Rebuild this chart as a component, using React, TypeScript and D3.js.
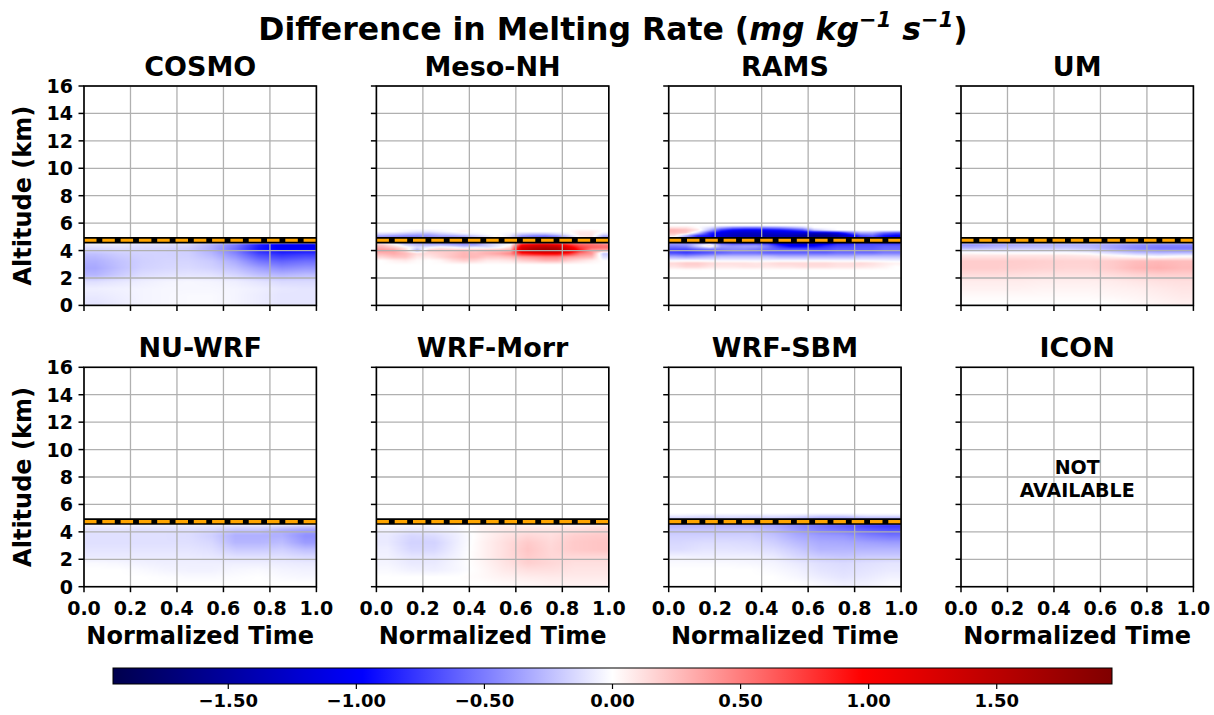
import React, { useMemo } from "react";
import * as d3 from "d3";

const W = 1214;
const H = 715;
const FONT = "DejaVu Sans";

const models = ["COSMO", "Meso-NH", "RAMS", "UM", "NU-WRF", "WRF-Morr", "WRF-SBM", "ICON"];
const xTicks = [0, 0.2, 0.4, 0.6, 0.8, 1.0];
const yTicks = [0, 2, 4, 6, 8, 10, 12, 14, 16];
const cbarTicks = [-1.5, -1.0, -0.5, 0, 0.5, 1.0, 1.5];
const vLimit = 1.95;
const meltingLevel = 4.75;

// time bin centres
const t10 = [0.05, 0.15, 0.25, 0.35, 0.45, 0.55, 0.65, 0.75, 0.85, 0.95];
const t20 = [0.025, 0.075, 0.125, 0.175, 0.225, 0.275, 0.325, 0.375, 0.425, 0.475,
  0.525, 0.575, 0.625, 0.675, 0.725, 0.775, 0.825, 0.875, 0.925, 0.975];

// ---- COSMO ----
const cosmoAlt = [0.25, 0.75, 1.25, 1.75, 2.25, 2.75, 3.25, 3.75, 4.15, 4.45, 4.6];
const cosmoVals = [
  [-0.10, -0.07, -0.04, -0.03, -0.02, -0.02, -0.04, -0.07, -0.10, -0.10],
  [-0.08, -0.06, -0.04, -0.03, -0.02, -0.02, -0.04, -0.07, -0.10, -0.10],
  [-0.06, -0.05, -0.04, -0.03, -0.03, -0.03, -0.04, -0.06, -0.09, -0.10],
  [-0.12, -0.09, -0.06, -0.04, -0.03, -0.04, -0.06, -0.10, -0.14, -0.14],
  [-0.28, -0.2, -0.13, -0.11, -0.10, -0.11, -0.16, -0.24, -0.28, -0.25],
  [-0.33, -0.24, -0.17, -0.15, -0.14, -0.17, -0.24, -0.36, -0.44, -0.40],
  [-0.30, -0.23, -0.18, -0.16, -0.16, -0.20, -0.32, -0.52, -0.60, -0.55],
  [-0.24, -0.19, -0.17, -0.17, -0.18, -0.27, -0.45, -0.70, -0.80, -0.75],
  [-0.15, -0.13, -0.15, -0.16, -0.19, -0.32, -0.55, -0.88, -1.00, -1.00],
  [-0.08, -0.08, -0.12, -0.12, -0.15, -0.30, -0.50, -0.85, -1.02, -1.05],
  [0, 0, 0, 0, 0, 0, 0, 0, 0, 0],
];

// ---- Meso-NH ----
const mesoAlt = [3.0, 3.3, 3.55, 3.8, 4.05, 4.25, 4.45, 4.75, 5.05, 5.2, 5.4, 5.6];
const mesoVals = [
  [0, 0, 0, 0, 0, 0, 0, 0, 0, 0, 0, 0, 0, 0, 0, 0, 0, 0, 0, 0],
  [0, 0.05, 0.08, 0.02, 0, 0.03, 0.12, 0.18, 0.15, 0.08, 0.08, 0.1, 0.18, 0.22, 0.28, 0.28, 0.18, 0.12, 0.06, 0],
  [0.15, 0.22, 0.22, 0.08, 0.08, 0.15, 0.22, 0.28, 0.26, 0.2, 0.2, 0.25, 0.35, 0.4, 0.45, 0.45, 0.35, 0.3, 0.25, -0.12],
  [0.28, 0.32, 0.26, 0.14, 0.14, 0.18, 0.22, 0.28, 0.26, 0.3, 0.35, 0.45, 0.85, 0.95, 1.0, 1.0, 0.85, 0.5, 0.4, -0.22],
  [0.4, 0.35, 0.15, -0.3, 0.18, 0.2, 0.2, 0.25, 0.2, 0.25, 0.25, 0.3, 1.35, 1.65, 1.75, 1.7, 1.35, 0.85, 0.4, 0.35],
  [0.3, 0.2, 0.05, -0.12, -0.05, 0.05, 0, -0.12, -0.05, -0.12, -0.05, 0.12, 1.25, 1.45, 1.55, 1.5, 1.15, 0.75, 0.6, 0.55],
  [0.2, 0.05, -0.18, -0.25, -0.3, -0.3, -0.35, -0.4, -0.4, -0.22, -0.1, 0, 0.9, 1.1, 1.2, 1.1, 0.8, 0.6, 0.55, 0.5],
  [-0.35, -0.35, -0.4, -0.4, -0.35, -0.35, -0.35, -0.35, -0.22, -0.1, -0.1, -0.22, -0.35, -0.45, -0.45, -0.35, -0.1, 0.05, 0.05, -0.25],
  [-0.4, -0.45, -0.5, -0.5, -0.45, -0.4, -0.4, -0.35, -0.22, -0.1, 0.05, -0.12, -0.45, -0.55, -0.6, -0.5, -0.22, 0.05, 0.1, -0.35],
  [-0.18, -0.22, -0.28, -0.32, -0.32, -0.22, -0.17, -0.1, -0.05, 0, 0, -0.05, -0.22, -0.28, -0.28, -0.17, -0.05, 0.1, 0.1, -0.12],
  [0, 0, -0.05, -0.1, -0.1, -0.05, 0, 0.05, 0, 0, 0, 0, 0, 0, 0, 0, 0, 0.08, 0.08, 0],
  [0, 0, 0, 0, 0, 0, 0, 0, 0, 0, 0, 0, 0, 0, 0, 0, 0, 0, 0, 0],
];

// ---- RAMS ----
const ramsAlt = [2.6, 2.85, 3.1, 3.35, 3.6, 3.85, 4.1, 4.35, 4.5, 4.75, 5.1, 5.3, 5.5, 5.7, 5.85];
const ramsVals = [
  [0, 0, 0, 0, 0, 0, 0, 0, 0, 0, 0, 0, 0, 0, 0, 0, 0, 0, 0, 0],
  [0.1, 0.15, 0.15, 0.1, 0.08, 0.08, 0.1, 0.1, 0.08, 0.1, 0.1, 0.12, 0.12, 0.12, 0.1, 0.1, 0.1, 0.08, 0.05, 0],
  [0.15, 0.2, 0.2, 0.15, 0.12, 0.12, 0.12, 0.1, 0.12, 0.15, 0.15, 0.15, 0.15, 0.15, 0.12, 0.12, 0.15, 0.12, 0.08, 0.05],
  [-0.08, -0.08, -0.08, -0.08, -0.08, -0.08, -0.08, -0.08, -0.08, -0.08, -0.08, -0.08, -0.08, -0.08, -0.08, -0.08, -0.08, -0.08, -0.08, -0.08],
  [-0.35, -0.4, -0.35, -0.3, -0.25, -0.25, -0.25, -0.25, -0.25, -0.3, -0.3, -0.3, -0.3, -0.3, -0.3, -0.3, -0.25, -0.25, -0.25, -0.25],
  [-0.7, -0.75, -0.7, -0.65, -0.6, -0.55, -0.55, -0.55, -0.6, -0.6, -0.6, -0.6, -0.6, -0.6, -0.55, -0.55, -0.55, -0.55, -0.5, -0.5],
  [-0.7, -0.7, -0.6, -0.55, -0.5, -0.45, -0.45, -0.5, -0.55, -0.6, -0.6, -0.6, -0.65, -0.65, -0.6, -0.6, -0.6, -0.6, -0.55, -0.55],
  [-0.5, -0.45, -0.15, 0.15, -0.35, -0.4, -0.35, -0.35, -0.5, -0.8, -1.0, -1.0, -0.95, -0.8, -0.7, -0.7, -0.65, -0.65, -0.6, -0.6],
  [-0.4, -0.4, -0.25, -0.1, -0.5, -0.6, -0.6, -0.6, -0.7, -1.0, -1.1, -1.2, -1.1, -1.0, -0.8, -0.8, -0.7, -0.7, -0.7, -0.7],
  [-0.3, -0.6, -0.9, -1.0, -1.2, -1.3, -1.3, -1.3, -1.3, -1.3, -1.4, -1.4, -1.5, -1.5, -1.3, -1.1, -0.9, -0.9, -1.0, -1.1],
  [0.1, -0.3, -0.8, -0.9, -1.2, -1.35, -1.4, -1.4, -1.4, -1.4, -1.4, -1.5, -1.6, -1.6, -1.5, -1.2, -0.7, -0.6, -0.9, -1.0],
  [0.25, 0.2, -0.2, -0.8, -1.1, -1.25, -1.3, -1.3, -1.25, -1.2, -1.2, -1.2, -1.3, -1.3, -1.1, -0.7, -0.35, -0.35, -0.6, -0.7],
  [0.3, 0.25, 0.1, -0.3, -0.8, -1.0, -1.05, -1.05, -1.0, -0.95, -0.85, -0.7, -0.25, -0.1, 0, 0, 0, 0, 0, 0],
  [0.1, 0.1, 0, -0.1, -0.3, -0.45, -0.5, -0.5, -0.45, -0.4, -0.3, -0.2, 0, 0, 0, 0, 0, 0, 0, 0],
  [0, 0, 0, 0, 0, 0, 0, 0, 0, 0, 0, 0, 0, 0, 0, 0, 0, 0, 0, 0],
];

// ---- UM ----
const umAlt = [0.25, 0.75, 1.25, 1.75, 2.25, 2.75, 3.25, 3.65, 3.95, 4.2, 4.45, 4.6];
const umVals = [
  [0, 0, 0, 0, 0, 0, 0, 0.02, 0.04, 0.06],
  [0.02, 0.02, 0.02, 0.02, 0.02, 0.02, 0.03, 0.04, 0.06, 0.08],
  [0.05, 0.05, 0.05, 0.04, 0.04, 0.04, 0.05, 0.06, 0.08, 0.1],
  [0.07, 0.07, 0.07, 0.06, 0.06, 0.06, 0.07, 0.09, 0.11, 0.12],
  [0.13, 0.13, 0.12, 0.11, 0.11, 0.11, 0.13, 0.16, 0.18, 0.18],
  [0.19, 0.19, 0.18, 0.17, 0.16, 0.16, 0.2, 0.27, 0.3, 0.26],
  [0.19, 0.19, 0.19, 0.18, 0.17, 0.17, 0.2, 0.25, 0.27, 0.25],
  [0.1, 0.1, 0.1, 0.1, 0.1, 0.08, 0.02, -0.04, -0.08, -0.04],
  [-0.04, -0.06, -0.06, -0.06, -0.06, -0.1, -0.22, -0.32, -0.36, -0.36],
  [-0.28, -0.25, -0.22, -0.22, -0.22, -0.26, -0.36, -0.46, -0.52, -0.52],
  [-0.42, -0.36, -0.33, -0.3, -0.3, -0.3, -0.35, -0.42, -0.46, -0.46],
  [0, 0, 0, 0, 0, 0, 0, 0, 0, 0],
];

// ---- NU-WRF ----
const nuwrfAlt = [0.25, 0.75, 1.25, 1.75, 2.25, 2.75, 3.25, 3.75, 4.15, 4.45, 4.6];
const nuwrfVals = [
  [0, 0, 0, 0, 0, 0, 0, 0, 0, 0],
  [0, 0, 0, -0.01, -0.02, -0.02, -0.01, 0, -0.02, -0.03],
  [0, 0, -0.02, -0.04, -0.05, -0.05, -0.03, -0.02, -0.04, -0.05],
  [-0.02, -0.03, -0.05, -0.06, -0.06, -0.06, -0.06, -0.06, -0.07, -0.08],
  [-0.08, -0.08, -0.08, -0.08, -0.08, -0.09, -0.12, -0.12, -0.12, -0.15],
  [-0.1, -0.1, -0.1, -0.1, -0.1, -0.12, -0.2, -0.2, -0.18, -0.25],
  [-0.12, -0.12, -0.12, -0.12, -0.12, -0.15, -0.28, -0.28, -0.25, -0.38],
  [-0.12, -0.12, -0.12, -0.12, -0.13, -0.18, -0.3, -0.3, -0.3, -0.42],
  [-0.1, -0.1, -0.12, -0.12, -0.12, -0.15, -0.22, -0.22, -0.3, -0.35],
  [-0.06, -0.06, -0.08, -0.08, -0.08, -0.1, -0.12, -0.12, -0.15, -0.2],
  [0, 0, 0, 0, 0, 0, 0, 0, 0, 0],
];

// ---- WRF-Morr ----
const morrAlt = [0.25, 0.75, 1.25, 1.75, 2.25, 2.75, 3.25, 3.75, 4.15, 4.45, 4.6];
const morrVals = [
  [0, 0, 0, 0, 0, 0.02, 0.03, 0.05, 0.05, 0.05],
  [0, 0, 0, 0, 0.02, 0.05, 0.07, 0.08, 0.08, 0.08],
  [-0.02, -0.05, -0.06, -0.03, 0.02, 0.08, 0.12, 0.12, 0.1, 0.1],
  [-0.04, -0.08, -0.08, -0.03, 0.03, 0.1, 0.18, 0.15, 0.12, 0.12],
  [-0.05, -0.1, -0.1, -0.04, 0.04, 0.12, 0.2, 0.15, 0.15, 0.15],
  [-0.06, -0.15, -0.15, -0.05, 0.04, 0.12, 0.22, 0.15, 0.2, 0.22],
  [-0.08, -0.17, -0.17, -0.06, 0.04, 0.12, 0.2, 0.14, 0.2, 0.22],
  [-0.08, -0.15, -0.13, -0.06, 0.03, 0.1, 0.15, 0.12, 0.18, 0.2],
  [-0.05, -0.08, -0.07, -0.04, 0.04, 0.08, 0.1, 0.1, 0.12, 0.15],
  [-0.02, -0.04, -0.04, -0.02, 0.04, 0.06, 0.06, 0.06, 0.08, 0.1],
  [0, 0, 0, 0, 0, 0, 0, 0, 0, 0],
];

// ---- WRF-SBM ----
const sbmAlt = [0.25, 0.75, 1.25, 1.75, 2.25, 2.75, 3.25, 3.75, 4.15, 4.45, 4.75, 5.05, 5.25, 5.4];
const sbmVals = [
  [0, 0, 0, 0, 0, 0, -0.03, -0.06, -0.05, -0.02],
  [0, 0, 0, 0, 0, -0.03, -0.07, -0.1, -0.08, -0.05],
  [0, 0, 0, 0, -0.02, -0.05, -0.1, -0.12, -0.1, -0.08],
  [-0.02, -0.02, -0.02, -0.03, -0.04, -0.08, -0.12, -0.14, -0.12, -0.1],
  [-0.05, -0.06, -0.06, -0.06, -0.08, -0.15, -0.2, -0.22, -0.2, -0.2],
  [-0.13, -0.1, -0.1, -0.11, -0.13, -0.2, -0.28, -0.28, -0.28, -0.28],
  [-0.15, -0.13, -0.13, -0.14, -0.18, -0.26, -0.32, -0.33, -0.36, -0.38],
  [-0.18, -0.18, -0.18, -0.18, -0.23, -0.32, -0.38, -0.4, -0.48, -0.53],
  [-0.22, -0.22, -0.22, -0.22, -0.28, -0.38, -0.48, -0.53, -0.6, -0.65],
  [-0.28, -0.28, -0.28, -0.3, -0.33, -0.43, -0.53, -0.6, -0.7, -0.75],
  [-0.3, -0.3, -0.3, -0.3, -0.3, -0.35, -0.4, -0.4, -0.45, -0.5],
  [-0.15, -0.18, -0.15, -0.18, -0.18, -0.22, -0.3, -0.3, -0.24, -0.24],
  [-0.04, -0.06, -0.06, -0.06, -0.06, -0.07, -0.1, -0.1, -0.06, -0.06],
  [0, 0, 0, 0, 0, 0, 0, 0, 0, 0],
];

type Field = { times: number[]; alts: number[]; vals: number[][] } | null;
const fields: Field[] = [
  { times: t10, alts: cosmoAlt, vals: cosmoVals },
  { times: t20, alts: mesoAlt, vals: mesoVals },
  { times: t20, alts: ramsAlt, vals: ramsVals },
  { times: t10, alts: umAlt, vals: umVals },
  { times: t10, alts: nuwrfAlt, vals: nuwrfVals },
  { times: t10, alts: morrAlt, vals: morrVals },
  { times: t10, alts: sbmAlt, vals: sbmVals },
  null,
];

// seismic colormap
const cStops = [-vLimit, -vLimit / 2, 0, vLimit / 2, vLimit];
const rS = d3.scaleLinear().domain(cStops).range([0, 0, 255, 255, 128]).clamp(true);
const gS = d3.scaleLinear().domain(cStops).range([0, 0, 255, 0, 0]).clamp(true);
const bS = d3.scaleLinear().domain(cStops).range([77, 255, 255, 0, 0]).clamp(true);
const seismic = (v: number) => `rgb(${Math.round(rS(v))},${Math.round(gS(v))},${Math.round(bS(v))})`;

// layout
const colLeft = [84, 376.4, 668.7, 961];
const rowTop = [86, 367.3];
const PW = 232.4;
const PH = 219.4;

function bracket(arr: number[], v: number) {
  const n = arr.length;
  if (v <= arr[0]) return [0, 0, 0];
  if (v >= arr[n - 1]) return [n - 1, n - 1, 0];
  let i = d3.bisectRight(arr, v) - 1;
  if (i > n - 2) i = n - 2;
  const f = (v - arr[i]) / (arr[i + 1] - arr[i]);
  return [i, i + 1, f];
}

function makeImage(field: NonNullable<Field>, x: d3.ScaleLinear<number, number>, y: d3.ScaleLinear<number, number>) {
  const w = Math.round(PW);
  const h = Math.round(PH);
  const canvas = document.createElement("canvas");
  canvas.width = w;
  canvas.height = h;
  const ctx = canvas.getContext("2d");
  if (!ctx) return "";
  const img = ctx.createImageData(w, h);
  const { times, alts, vals } = field;
  const top = alts[alts.length - 1];
  for (let py = 0; py < h; py++) {
    const alt = y.invert(py + 0.5);
    if (alt > top) continue;
    const [a0, a1, fa] = bracket(alts, alt);
    for (let px = 0; px < w; px++) {
      const t = x.invert(px + 0.5);
      const [c0, c1, ft] = bracket(times, t);
      const v =
        vals[a0][c0] * (1 - fa) * (1 - ft) +
        vals[a0][c1] * (1 - fa) * ft +
        vals[a1][c0] * fa * (1 - ft) +
        vals[a1][c1] * fa * ft;
      const k = (py * w + px) * 4;
      img.data[k] = Math.round(rS(v));
      img.data[k + 1] = Math.round(gS(v));
      img.data[k + 2] = Math.round(bS(v));
      img.data[k + 3] = 255;
    }
  }
  ctx.putImageData(img, 0, 0);
  return canvas.toDataURL();
}

function Panel({ idx }: { idx: number }) {
  const col = idx % 4;
  const row = Math.floor(idx / 4);
  const left = colLeft[col];
  const top = rowTop[row];
  const x = d3.scaleLinear().domain([0, 1]).range([0, PW]);
  const y = d3.scaleLinear().domain([0, 16]).range([PH, 0]);
  const field = fields[idx];
  const url = useMemo(() => (field ? makeImage(field, x, y) : ""), [idx]);
  const clipId = `clip${idx}`;
  return (
    <g transform={`translate(${left},${top})`}>
      <defs>
        <clipPath id={clipId}>
          <rect x={0} y={0} width={PW} height={PH} />
        </clipPath>
      </defs>
      {field && (
        <image href={url} x={0} y={0} width={PW} height={PH} preserveAspectRatio="none" />
      )}
      {/* grid */}
      <g stroke="#b0b0b0" strokeWidth={1.3}>
        {xTicks.map((t) => (
          <line key={"gx" + t} x1={x(t)} x2={x(t)} y1={0} y2={PH} />
        ))}
        {yTicks.map((t) => (
          <line key={"gy" + t} x1={0} x2={PW} y1={y(t)} y2={y(t)} />
        ))}
      </g>
      {field && (
        <g clipPath={`url(#${clipId})`}>
          <line x1={0} x2={PW} y1={y(meltingLevel)} y2={y(meltingLevel)} stroke="#000" strokeWidth={6.5} />
          <line x1={0} x2={PW} y1={y(meltingLevel)} y2={y(meltingLevel)} stroke="#FFA500" strokeWidth={3.2} strokeDasharray="12.5,5.8" />
        </g>
      )}
      {idx === 7 && (
        <g fontFamily={FONT} fontWeight="bold" fontSize={19} textAnchor="middle">
          <text x={PW / 2} y={y(8.2)}>NOT</text>
          <text x={PW / 2} y={y(8.2) + 23}>AVAILABLE</text>
        </g>
      )}
      {/* spines */}
      <rect x={0} y={0} width={PW} height={PH} fill="none" stroke="#000" strokeWidth={1.6} />
      {/* ticks */}
      <g stroke="#000" strokeWidth={1.5}>
        {xTicks.map((t) => (
          <line key={"tx" + t} x1={x(t)} x2={x(t)} y1={PH} y2={PH + 5.5} />
        ))}
        {yTicks.map((t) => (
          <line key={"ty" + t} x1={-5.5} x2={0} y1={y(t)} y2={y(t)} />
        ))}
      </g>
      <g fontFamily={FONT} fontWeight="bold" fontSize={19} fill="#000">
        {col === 0 &&
          yTicks.map((t) => (
            <text key={"ly" + t} x={-11} y={y(t) + 7} textAnchor="end">
              {t}
            </text>
          ))}
        {row === 1 &&
          xTicks.map((t) => (
            <text key={"lx" + t} x={x(t)} y={PH + 28.5} textAnchor="middle">
              {d3.format(".1f")(t)}
            </text>
          ))}
      </g>
      <text x={PW / 2} y={-10} textAnchor="middle" fontFamily={FONT} fontWeight="bold" fontSize={27}>
        {models[idx]}
      </text>
      {row === 1 && (
        <text x={PW / 2} y={PH + 57.5} textAnchor="middle" fontFamily={FONT} fontWeight="bold" fontSize={24}>
          Normalized Time
        </text>
      )}
      {col === 0 && (
        <text
          transform={`translate(-53,${PH / 2}) rotate(-90)`}
          textAnchor="middle"
          fontFamily={FONT}
          fontWeight="bold"
          fontSize={24}
        >
          Altitude (km)
        </text>
      )}
    </g>
  );
}

function Colorbar() {
  const x0 = 113;
  const x1 = 1112;
  const yTop = 668;
  const hBar = 16;
  const cx = d3.scaleLinear().domain([-vLimit, vLimit]).range([x0, x1]);
  const stops = d3.range(0, 65).map((i) => -vLimit + (i / 64) * 2 * vLimit);
  return (
    <g>
      <defs>
        <linearGradient id="cbgrad" x1="0" x2="1" y1="0" y2="0">
          {stops.map((v, i) => (
            <stop key={i} offset={(v + vLimit) / (2 * vLimit)} stopColor={seismic(v)} />
          ))}
        </linearGradient>
      </defs>
      <rect x={x0} y={yTop} width={x1 - x0} height={hBar} fill="url(#cbgrad)" stroke="#000" strokeWidth={1} />
      {cbarTicks.map((t) => (
        <g key={t}>
          <line x1={cx(t)} x2={cx(t)} y1={yTop + hBar} y2={yTop + hBar + 5} stroke="#000" strokeWidth={1.2} />
          <text x={cx(t)} y={yTop + hBar + 23} textAnchor="middle" fontFamily={FONT} fontWeight="bold" fontSize={18}>
            {d3.format(".2f")(t)}
          </text>
        </g>
      ))}
    </g>
  );
}

export default function App() {
  return (
    <svg
      width={W}
      height={H}
      viewBox={`0 0 ${W} ${H}`}
      style={{ display: "block", position: "absolute", left: 0, top: 0, background: "#fff" }}
    >
      <rect width={W} height={H} fill="#fff" />
      <text x={613} y={40} textAnchor="middle" fontFamily={FONT} fontWeight="bold" fontSize={31.5}>
        Difference in Melting Rate (
        <tspan fontStyle="italic">mg kg</tspan>
        <tspan fontStyle="italic" fontSize={21} dy={-13}>−1</tspan>
        <tspan fontStyle="italic" dy={13}> s</tspan>
        <tspan fontStyle="italic" fontSize={21} dy={-13}>−1</tspan>
        <tspan dy={13}>)</tspan>
      </text>
      {models.map((m, i) => (
        <Panel key={m} idx={i} />
      ))}
      <Colorbar />
    </svg>
  );
}
